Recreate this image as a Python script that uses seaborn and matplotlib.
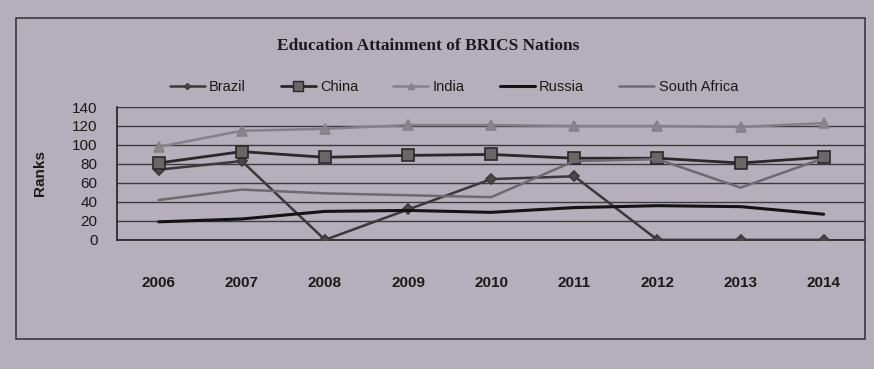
import matplotlib
matplotlib.use("Agg")
import matplotlib.pyplot as plt
from matplotlib.lines import Line2D
from matplotlib.patches import Rectangle
import seaborn as sns
import pandas as pd

years = ["2006", "2007", "2008", "2009", "2010", "2011", "2012", "2013", "2014"]
brazil = [74, 83, 0, 32, 64, 67, 0, 0, 0]
china = [81, 93, 87, 89, 90, 86, 86, 81, 87]
india = [98, 115, 117, 121, 121, 120, 120, 119, 123]
russia = [19, 22, 30, 31, 29, 34, 36, 35, 27]
south_africa = [42, 53, 49, 47, 45, 83, 85, 55, 86]
y_ticks = [0, 20, 40, 60, 80, 100, 120, 140]

series = {
    "Brazil": brazil,
    "China": china,
    "India": india,
    "Russia": russia,
    "South Africa": south_africa,
}
df = pd.DataFrame(
    [
        {"pos": i, "Year": y, "Country": c, "Rank": v}
        for c, vals in series.items()
        for i, (y, v) in enumerate(zip(years, vals))
    ]
)

styles = {
    "Brazil": dict(color="#3a3838", marker="D", ms=5, lw=1.8, mfc="#4a4848"),
    "China": dict(color="#2a2828", marker="s", ms=9, lw=2.0, mfc="#6a6668"),
    "India": dict(color="#858088", marker="^", ms=7, lw=1.8, mfc="#8a868c"),
    "Russia": dict(color="#141314", marker=None, ms=0, lw=2.2, mfc="none"),
    "South Africa": dict(color="#6e6a70", marker=None, ms=0, lw=1.8, mfc="none"),
}

bg = "#b4afbb"
sns.set_theme(style="white")
plt.rcParams["font.family"] = ["Liberation Sans Narrow", "Liberation Sans", "DejaVu Sans"]

fig = plt.figure(figsize=(8.74, 3.69), dpi=100, facecolor=bg)
ax = fig.add_axes([0.134, 0.35, 0.856, 0.36], facecolor=bg)

for name, st in styles.items():
    sub = df[df["Country"] == name]
    sns.lineplot(
        data=sub, x="pos", y="Rank", ax=ax, color=st["color"], lw=st["lw"],
        marker=st["marker"], markersize=st["ms"], markerfacecolor=st["mfc"],
        markeredgecolor=st["color"], markeredgewidth=1.2, legend=False, zorder=3,
    )

ax.set_xlim(-0.5, 8.5)
ax.set_ylim(0, 140)
ax.set_yticks(y_ticks)
ax.set_yticklabels([str(t) for t in y_ticks], fontsize=11, color="#1a1a1a")
ax.set_xticks(range(len(years)))
ax.set_xticklabels(years, fontsize=11, color="#1a1a1a", fontweight="semibold")
ax.tick_params(axis="x", length=0, pad=26)
ax.tick_params(axis="y", length=0, pad=14)
ax.set_xlabel("")
ax.set_ylabel("Ranks", fontsize=11, fontweight="bold", color="#1a1a1a", labelpad=18)

ax.grid(axis="y", color="#3c3a3e", lw=1.0)
ax.grid(axis="x", visible=False)
for side in ["top", "right"]:
    ax.spines[side].set_visible(False)
for side in ["left", "bottom"]:
    ax.spines[side].set_color("#2a2a2a")
    ax.spines[side].set_linewidth(1.3)

handles = [
    Line2D([], [], color=st["color"], lw=st["lw"], marker=st["marker"],
           markersize=max(st["ms"] - 2, 0), markerfacecolor=st["mfc"],
           markeredgecolor=st["color"])
    for st in styles.values()
]
ax.legend(handles, list(styles.keys()), loc="lower center",
          bbox_to_anchor=(0.45, 1.0), ncol=5, frameon=False, fontsize=10.5,
          handlelength=2.4, handletextpad=0.3, columnspacing=2.4,
          labelcolor="#1a1a1a")

fig.text(0.49, 0.875, "Education Attainment of BRICS Nations",
         ha="center", va="center", fontsize=12.5, fontweight="bold",
         family=["Liberation Serif", "DejaVu Serif"], color="#1a1a1a")

fig.patches.append(Rectangle((0.018, 0.08), 0.972, 0.87, transform=fig.transFigure,
                             fill=False, edgecolor="#3a383c", lw=1.2))

fig.savefig("out.png", dpi=100, facecolor=bg)
